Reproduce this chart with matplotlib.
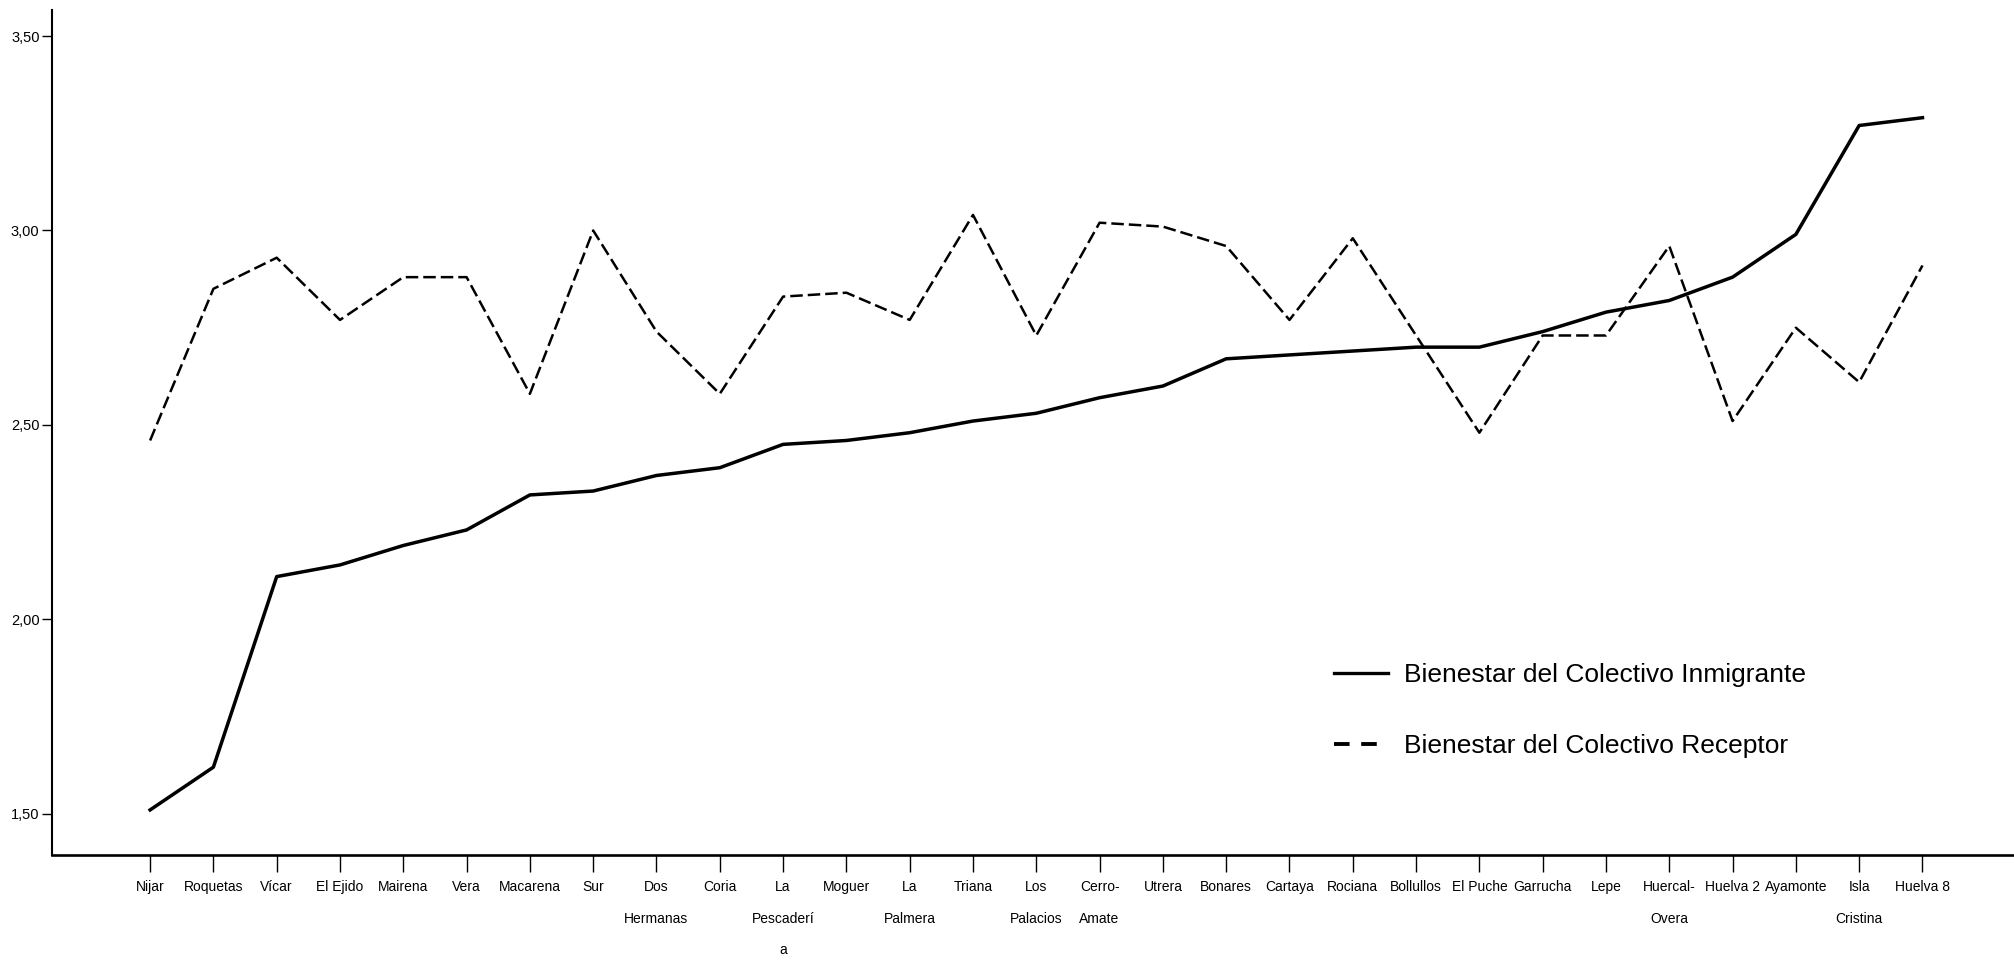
import matplotlib
matplotlib.use("Agg")
import matplotlib.pyplot as plt
from matplotlib.lines import Line2D

# Municipios (orden del eje X)
municipios = [
    "Nijar", "Roquetas", "Vícar", "El Ejido", "Mairena", "Vera", "Macarena",
    "Sur", "Dos\nHermanas", "Coria", "La\nPescaderí\na", "Moguer",
    "La\nPalmera", "Triana", "Los\nPalacios", "Cerro-\nAmate", "Utrera",
    "Bonares", "Cartaya", "Rociana", "Bollullos", "El Puche", "Garrucha",
    "Lepe", "Huercal-\nOvera", "Huelva 2", "Ayamonte", "Isla\nCristina",
    "Huelva 8",
]

# Bienestar medio de cada colectivo
inmigrante = [
    1.51, 1.62, 2.11, 2.14, 2.19, 2.23, 2.32, 2.33, 2.37, 2.39, 2.45, 2.46,
    2.48, 2.51, 2.53, 2.57, 2.60, 2.67, 2.68, 2.69, 2.70, 2.70, 2.74, 2.79,
    2.82, 2.88, 2.99, 3.27, 3.29,
]
receptor = [
    2.46, 2.85, 2.93, 2.77, 2.88, 2.88, 2.58, 3.00, 2.74, 2.58, 2.83, 2.84,
    2.77, 3.04, 2.73, 3.02, 3.01, 2.96, 2.77, 2.98, 2.73, 2.48, 2.73, 2.73,
    2.96, 2.51, 2.75, 2.61, 2.91,
]

y_ticks = [1.5, 2.0, 2.5, 3.0, 3.5]
y_tick_labels = ["1,50", "2,00", "2,50", "3,00", "3,50"]

label_inmigrante = "Bienestar del Colectivo Inmigrante"
label_receptor = "Bienestar del Colectivo Receptor"

plt.rcParams['font.family'] = ['Liberation Sans', 'DejaVu Sans']

fig = plt.figure(figsize=(20.15, 9.69), dpi=100)
ax = fig.add_axes([0.0258, 0.1176, 0.9732, 0.8721])

x = list(range(len(municipios)))

ax.plot(x, inmigrante, color='black', linewidth=2.5, solid_joinstyle='round')
ax.plot(x, receptor, color='black', linewidth=1.8, linestyle=(0, (5, 2)))

ax.set_xlim(-1.55, 29.43)
ax.set_ylim(1.394, 3.567)

ax.set_xticks(x)
ax.set_xticklabels(municipios, fontsize=10, linespacing=2.6)
ax.set_yticks(y_ticks)
ax.set_yticklabels(y_tick_labels, fontsize=10.5)

ax.tick_params(axis='x', direction='out', length=12, width=1, pad=6, color='black')
ax.tick_params(axis='y', direction='out', length=7, width=1, pad=2, color='black')

for side in ['top', 'right']:
    ax.spines[side].set_visible(False)
ax.spines['left'].set_linewidth(1.5)
ax.spines['bottom'].set_linewidth(1.9)

# Leyenda sin marco, con guiones más espaciados como en el original
handles = [
    Line2D([], [], color='black', linewidth=2.4),
    Line2D([], [], color='black', linewidth=2.8, linestyle=(0, (4, 3))),
]
fig.legend(handles, [label_inmigrante, label_receptor],
           loc='upper left', bbox_to_anchor=(0.662, 0.316),
           bbox_transform=fig.transFigure, frameon=False,
           fontsize=19, borderpad=0, borderaxespad=0,
           handlelength=2.05, handletextpad=0.6, labelspacing=1.8)

fig.savefig("out.png", dpi=100, facecolor='white')
